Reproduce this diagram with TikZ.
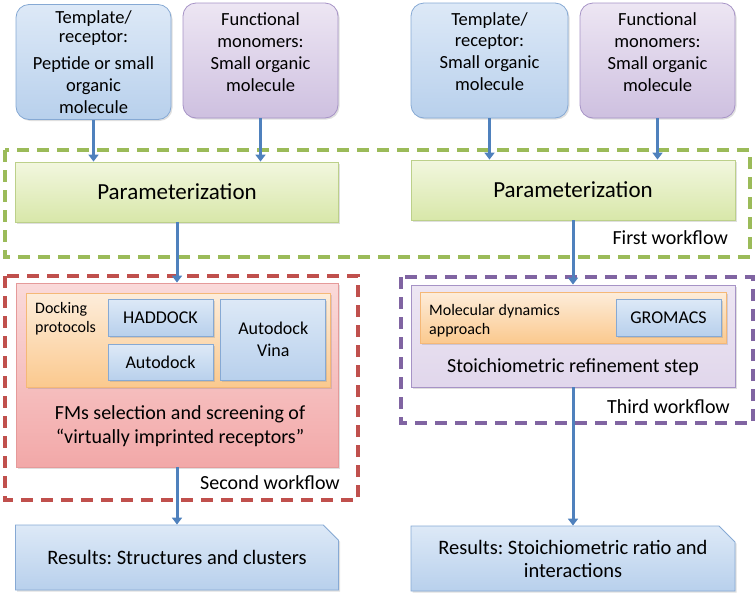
\documentclass[tikz,border=0pt]{standalone}
\usepackage{fontspec}
\setsansfont{Carlito}
\frenchspacing
\usetikzlibrary{positioning,arrows.meta,shadows,shapes.misc}
\definecolor{bluetop}{HTML}{DDE9F7}
\definecolor{bluebot}{HTML}{B8D0EC}
\definecolor{blueline}{HTML}{86A9D4}
\definecolor{purptop}{HTML}{EDE6F3}
\definecolor{purpbot}{HTML}{CEC0E0}
\definecolor{purpline}{HTML}{A693C6}
\definecolor{greentop}{HTML}{F2F7DF}
\definecolor{greenbot}{HTML}{D8E7A9}
\definecolor{greenline}{HTML}{BCD08A}
\definecolor{redtop}{HTML}{FADADA}
\definecolor{redbot}{HTML}{F2A8A8}
\definecolor{redline}{HTML}{E59A9A}
\definecolor{orgtop}{HTML}{FDEDDB}
\definecolor{orgbot}{HTML}{FBC98E}
\definecolor{orgline}{HTML}{F5B877}
\definecolor{flowarrow}{HTML}{4F81BD}
\definecolor{firstdash}{HTML}{9BBB59}
\definecolor{seconddash}{HTML}{C0504D}
\definecolor{thirddash}{HTML}{8064A2}
\begin{document}
\begin{tikzpicture}[x=1pt, y=-1pt, font=\sffamily,
    every node/.style={inner sep=0pt, align=center},
    box/.style={draw, line width=0.8pt, drop shadow={opacity=0.25, shadow xshift=1.5pt, shadow yshift=-1.5pt}},
    bluebox/.style={box, draw=blueline, top color=bluetop, bottom color=bluebot},
    purplebox/.style={box, draw=purpline, top color=purptop, bottom color=purpbot},
    inputbox/.style={minimum width=155pt, minimum height=115pt, rounded corners=13pt,
        font=\sffamily\fontsize{18.5}{22}\selectfont},
    raised/.style={text depth=17pt},
    parambox/.style={box, draw=greenline, top color=greentop, bottom color=greenbot,
        minimum width=323pt, minimum height=60pt, font=\sffamily\fontsize{23}{27}\selectfont},
    toolbox/.style={bluebox, minimum width=105pt, font=\sffamily\fontsize{18}{22}\selectfont},
    methodbox/.style={box, draw=orgline, top color=orgtop, bottom color=orgbot},
    resultbox/.style={bluebox, chamfered rectangle, chamfered rectangle corners=north east,
        chamfered rectangle xsep=8pt, chamfered rectangle ysep=8pt, inner sep=0pt,
        minimum width=323pt, minimum height=65pt, font=\sffamily\fontsize{20.5}{23}\selectfont},
    flow/.style={draw=flowarrow, line width=3pt, -{Triangle[width=10pt,length=7pt]}},
    workflow/.style={line width=3.5pt, dash pattern=on 12pt off 8pt},
    steplabel/.style={font=\sffamily\fontsize{20}{24}\selectfont},
    smalltext/.style={font=\sffamily\fontsize{16}{19}\selectfont, align=left}]
\useasboundingbox (0,0) rectangle (756,595);

% dashed workflow frames
\draw[workflow, draw=firstdash] (5,150) rectangle (750,257);
\draw[workflow, draw=seconddash] (5,276) rectangle (358,500);
\draw[workflow, draw=thirddash] (401,277) rectangle (753,423);

% inputs
\node[bluebox, inputbox] (templateA) at (93.5,62) {Template/\\[-3pt]receptor:\\[5pt]Peptide or small\\organic\\molecule};
\node[purplebox, inputbox, raised] (monomerA) at (260.5,60.5) {Functional\\monomers:\\Small organic\\molecule};
\node[bluebox, inputbox, raised, minimum width=157pt] (templateB) at (489.5,60.5) {Template/\\[-1pt]receptor:\\Small organic\\molecule};
\node[purplebox, inputbox, raised] (monomerB) at (657.5,60.5) {Functional\\monomers:\\Small organic\\molecule};

% parameterization
\node[parambox] (paramA) at (177,192) {Parameterization};
\node[parambox, minimum width=324pt] (paramB) at (573,190) {Parameterization};
\node[steplabel, anchor=east] (firstlbl) at (728,238) {First workflow};

% second workflow (docking)
\node[box, draw=redline, top color=redtop, bottom color=redbot, minimum width=322pt, minimum height=184pt] (screening) at (177,375) {};
\node[methodbox, minimum width=304pt, minimum height=94pt] (docking) at (178,340) {};
\node[smalltext, anchor=north west] (dockinglbl) at (35,302) {Docking\\protocols};
\node[toolbox, minimum height=37pt] (haddock) at (160.5,317.5) {HADDOCK};
\node[toolbox, minimum height=36pt, below=8pt of haddock] (autodock) {Autodock};
\node[toolbox, minimum height=81pt, right=7pt of haddock.north east, anchor=north west] (vina) {Autodock\\Vina};
\node[steplabel] (screeninglbl) at (180,426) {FMs selection and screening of\\``virtually imprinted receptors''};
\node[steplabel, anchor=east] (secondlbl) at (340,483) {Second workflow};

% third workflow (molecular dynamics)
\node[purplebox, top color=purptop, bottom color=purptop!60!purpbot, minimum width=324pt, minimum height=102pt] (refine) at (573,336) {};
\node[methodbox, minimum width=306pt, minimum height=51pt] (mdyn) at (573,317.5) {};
\node[smalltext, anchor=north west] (mdynlbl) at (429,304) {Molecular dynamics\\approach};
\node[toolbox, minimum height=37pt] (gromacs) at (668.5,317.5) {GROMACS};
\node[steplabel] (refinelbl) at (573,367) {Stoichiometric refinement step};
\node[steplabel, anchor=east] (thirdlbl) at (730,407) {Third workflow};

% results
\node[resultbox] (resultA) at (177,557.5) {Results: Structures and clusters};
\node[resultbox, minimum width=324pt] (resultB) at (573,558.5) {Results: Stoichiometric ratio and\\interactions};

% arrows
\draw[flow] (templateA.south) -- (templateA.south |- paramA.north);
\draw[flow] (monomerA.south) -- (monomerA.south |- paramA.north);
\draw[flow] (templateB.south) -- (templateB.south |- paramB.north);
\draw[flow] (monomerB.south) -- (monomerB.south |- paramB.north);
\draw[flow] (paramA.south) -- (screening.north);
\draw[flow] (paramB.south) -- (refine.north);
\draw[flow] (screening.south) -- (resultA.north);
\draw[flow] (refine.south) -- (resultB.north);
\end{tikzpicture}
\end{document}
